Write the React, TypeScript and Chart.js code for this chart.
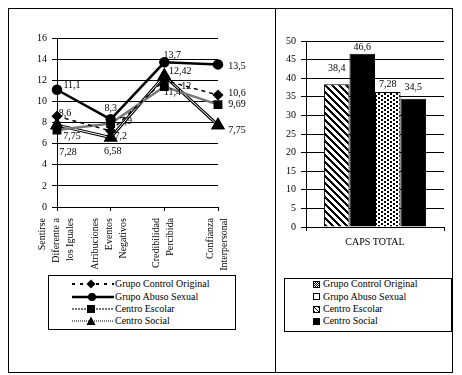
import React, { useEffect, useRef } from "react";
import { Chart, registerables } from "chart.js";

Chart.register(...registerables);

const FONT = "'Liberation Serif', 'Times New Roman', serif";

// ---- Line chart data ----
const lineCategories: string[][] = [
  ["Sentirse", "Diferente a", "los Iguales"],
  ["Atribuciones", "Eventos", "Negativos"],
  ["Credibilidad", "Percibida"],
  ["Confianza", "Interpersonal"],
];
const seriesNames = ["Grupo Control Original", "Grupo Abuso Sexual", "Centro Escolar", "Centro Social"];
const controlOriginal = [8.6, 7.2, 12, 10.6];
const abusoSexual = [11.1, 8.3, 13.7, 13.5];
const centroEscolar = [7.28, 7.9, 11.4, 9.69];
const centroSocial = [7.75, 6.58, 12.42, 7.75];
const lineYMin = 0;
const lineYMax = 16;
const lineYStep = 2;

// ---- Bar chart data ----
const barCategories = ["CAPS TOTAL"];
const capsTotal = [38.4, 46.6, 36.28, 34.5];
const capsLabels = ["38,4", "46,6", "7,28", "34,5"];
const barYMin = 0;
const barYMax = 50;
const barYStep = 5;

// ---- styles ----
const lineLabelOffsets: number[][][] = [
  [[8, -3], [10, 5], [22, 6], [19, -2]],
  [[15, -4], [0, -11], [8, -7], [19, 2]],
  [[11, 22], [15, -2], [8, 6], [19, 0]],
  [[15, 11], [2, 14], [16, -4], [19, 5]],
];
const barLabelOffsets = [16, 6, 8, 11];

const fmt = (v: number) => String(v).replace(".", ",");

function stripePattern(): CanvasPattern | string {
  const c = document.createElement("canvas");
  const n = 7;
  c.width = n;
  c.height = n;
  const g = c.getContext("2d");
  if (!g) return "#000";
  g.fillStyle = "#fff";
  g.fillRect(0, 0, n, n);
  g.fillStyle = "#000";
  for (let y = 0; y < n; y++) {
    for (let x = 0; x < n; x++) {
      if ((x - y + n) % n < 3) g.fillRect(x, y, 1, 1);
    }
  }
  return g.createPattern(c, "repeat") || "#000";
}

function dotPattern(): CanvasPattern | string {
  const c = document.createElement("canvas");
  c.width = 6;
  c.height = 4;
  const g = c.getContext("2d");
  if (!g) return "#888";
  g.fillStyle = "#fff";
  g.fillRect(0, 0, 6, 4);
  g.fillStyle = "#000";
  g.fillRect(0, 0, 2, 2);
  g.fillRect(3, 2, 2, 2);
  return g.createPattern(c, "repeat") || "#888";
}

export default function App() {
  const lineRef = useRef<HTMLCanvasElement>(null);
  const barRef = useRef<HTMLCanvasElement>(null);

  useEffect(() => {
    if (!lineRef.current || !barRef.current) return;
    const seriesValues = [controlOriginal, abusoSexual, centroEscolar, centroSocial];

    const socialPlugin = {
      id: "socialHollow",
      afterDatasetDraw(chart: any, args: any) {
        if (args.index !== 3) return;
        const ctx = chart.ctx;
        const pts = args.meta.data;
        ctx.save();
        ctx.strokeStyle = "#fff";
        ctx.lineWidth = 1;
        ctx.beginPath();
        pts.forEach((p: any, i: number) => (i === 0 ? ctx.moveTo(p.x, p.y) : ctx.lineTo(p.x, p.y)));
        ctx.stroke();
        ctx.restore();
        pts.forEach((p: any) => p.draw(ctx));
      },
    };

    const lineLabelsPlugin = {
      id: "lineLabels",
      afterDatasetsDraw(chart: any) {
        const ctx = chart.ctx;
        ctx.save();
        ctx.font = `10px ${FONT}`;
        ctx.fillStyle = "#000";
        ctx.textAlign = "center";
        ctx.textBaseline = "middle";
        seriesValues.forEach((vals, d) => {
          const meta = chart.getDatasetMeta(d);
          meta.data.forEach((pt: any, i: number) => {
            const [dx, dy] = lineLabelOffsets[d][i];
            ctx.fillText(fmt(vals[i]), pt.x + dx, pt.y + dy);
          });
        });
        ctx.restore();
      },
    };

    const xLabelsPlugin = {
      id: "xLabels",
      afterDraw(chart: any) {
        const ctx = chart.ctx;
        const scale = chart.scales.x;
        ctx.save();
        ctx.font = `10px ${FONT}`;
        ctx.fillStyle = "#000";
        lineCategories.forEach((lines, i) => {
          const x = scale.getPixelForTick(i);
          const n = lines.length;
          lines.forEach((t, j) => {
            ctx.save();
            ctx.translate(x + (j - (n - 1) / 2) * 14 - 1, scale.top + 11);
            ctx.rotate(-Math.PI / 2);
            ctx.textAlign = "right";
            ctx.textBaseline = "middle";
            ctx.fillText(t, 0, 0);
            ctx.restore();
          });
        });
        ctx.restore();
      },
    };

    const lineChart = new Chart(lineRef.current, {
      type: "line",
      data: {
        labels: lineCategories.map((l) => l.join(" ")),
        datasets: [
          {
            label: seriesNames[0],
            data: controlOriginal,
            borderColor: "#000",
            borderWidth: 1.5,
            borderDash: [4, 4],
            pointStyle: "rectRot",
            pointRadius: 4.5,
            pointBackgroundColor: "#000",
            pointBorderColor: "#000",
            clip: false,
            tension: 0,
          },
          {
            label: seriesNames[1],
            data: abusoSexual,
            borderColor: "#000",
            borderWidth: 2.5,
            pointStyle: "circle",
            pointRadius: 4,
            pointBackgroundColor: "#000",
            pointBorderColor: "#000",
            clip: false,
            tension: 0,
          },
          {
            label: seriesNames[2],
            data: centroEscolar,
            borderColor: "#7a7a7a",
            borderWidth: 2.5,
            pointStyle: "rect",
            pointRadius: 4.5,
            pointBackgroundColor: "#000",
            pointBorderColor: "#000",
            clip: false,
            tension: 0,
          },
          {
            label: seriesNames[3],
            data: centroSocial,
            borderColor: "#000",
            borderWidth: 3,
            pointStyle: "triangle",
            pointRadius: 5,
            pointBackgroundColor: "#000",
            pointBorderColor: "#000",
            clip: false,
            tension: 0,
          },
        ],
      } as any,
      options: {
        responsive: false,
        animation: false,
        events: [],
        layout: { padding: { top: 29, right: 56, left: 0, bottom: 0 } },
        plugins: { legend: { display: false }, tooltip: { enabled: false } },
        scales: {
          x: {
            offset: false,
            grid: { drawOnChartArea: false, drawTicks: true, tickLength: 4, color: "#000" },
            border: { color: "#000" },
            ticks: { display: false },
            afterFit: (s: any) => {
              s.height = 64;
            },
          },
          y: {
            min: lineYMin,
            max: lineYMax,
            ticks: { stepSize: lineYStep, color: "#000", font: { family: FONT, size: 10 }, padding: 5 },
            grid: { color: "#000", tickLength: 5 },
            border: { color: "#000" },
            afterFit: (s: any) => {
              s.width = 48;
            },
          },
        },
      } as any,
      plugins: [socialPlugin, lineLabelsPlugin, xLabelsPlugin],
    });

    const barFills = [stripePattern(), "#000", dotPattern(), "#000"];

    const barLabelsPlugin = {
      id: "barLabels",
      afterDatasetsDraw(chart: any) {
        const ctx = chart.ctx;
        ctx.save();
        ctx.font = `10px ${FONT}`;
        ctx.fillStyle = "#000";
        ctx.textAlign = "center";
        ctx.textBaseline = "middle";
        capsLabels.forEach((t, i) => {
          const el = chart.getDatasetMeta(i).data[0];
          ctx.fillText(t, el.x, el.y - barLabelOffsets[i]);
        });
        ctx.restore();
      },
    };

    const barChart = new Chart(barRef.current, {
      type: "bar",
      data: {
        labels: barCategories,
        datasets: seriesNames.map((name, i) => ({
          label: name,
          data: [capsTotal[i]],
          backgroundColor: barFills[i],
          borderColor: "#000",
          borderWidth: 1,
          categoryPercentage: 0.74,
          barPercentage: 1,
        })),
      } as any,
      options: {
        responsive: false,
        animation: false,
        events: [],
        layout: { padding: { top: 32, right: 8, left: 0, bottom: 0 } },
        plugins: { legend: { display: false }, tooltip: { enabled: false } },
        scales: {
          x: {
            grid: { drawOnChartArea: false, tickLength: 4, color: "#000" },
            border: { color: "#000" },
            ticks: { color: "#000", font: { family: FONT, size: 10 }, padding: 5 },
            afterFit: (s: any) => {
              s.height = 42;
            },
          },
          y: {
            min: barYMin,
            max: barYMax,
            ticks: { stepSize: barYStep, color: "#000", font: { family: FONT, size: 10 }, padding: 5 },
            grid: { color: "#000", tickLength: 5 },
            border: { color: "#000" },
            afterFit: (s: any) => {
              s.width = 30;
            },
          },
        },
      } as any,
      plugins: [barLabelsPlugin],
    });

    return () => {
      lineChart.destroy();
      barChart.destroy();
    };
  }, []);

  const rowStyle = (center: number, left: number): React.CSSProperties => ({
    position: "absolute",
    top: center - 6,
    left,
    height: 12,
    lineHeight: "12px",
    whiteSpace: "nowrap",
    display: "flex",
    alignItems: "center",
  });

  const lineRows = [275, 287.5, 299.5, 311.5];
  const barRows = [275, 287.5, 300, 312];

  const lineSwatches = [
    <svg width={42} height={10} key="a">
      <line x1={0} y1={5} x2={42} y2={5} stroke="#000" strokeWidth={2} strokeDasharray="3 5" />
      <polygon points="19,0.5 23.5,5 19,9.5 14.5,5" fill="#000" />
    </svg>,
    <svg width={42} height={10} key="b">
      <line x1={0} y1={5} x2={42} y2={5} stroke="#000" strokeWidth={2.5} />
      <circle cx={20} cy={5} r={4} fill="#000" />
    </svg>,
    <svg width={42} height={10} key="c">
      <line x1={0} y1={5} x2={42} y2={5} stroke="#777" strokeWidth={2} strokeDasharray="2 1" />
      <rect x={15} y={1} width={8} height={8} fill="#000" />
    </svg>,
    <svg width={42} height={10} key="d">
      <line x1={0} y1={5} x2={42} y2={5} stroke="#000" strokeWidth={1} strokeDasharray="1 1" />
      <polygon points="19,0.5 23.5,9 14.5,9" fill="#000" />
    </svg>,
  ];

  const barSwatchStyles: React.CSSProperties[] = [
    { background: "repeating-conic-gradient(#000 0% 25%, #fff 0% 50%) 0 0 / 2px 2px" },
    { background: "#fff" },
    { background: "repeating-linear-gradient(45deg, #000 0 1px, #fff 1px 3px)" },
    { background: "#000" },
  ];

  return (
    <div
      style={{
        position: "relative",
        width: 445,
        height: 365,
        border: "1px solid #000",
        boxSizing: "border-box",
        fontFamily: FONT,
        fontSize: 10,
        color: "#000",
        background: "#fff",
      }}
    >
      <div style={{ position: "absolute", left: 266, top: 0, width: 1, height: "100%", background: "#000" }} />
      <canvas
        ref={lineRef}
        width={265}
        height={262}
        style={{ position: "absolute", left: 0, top: 0, width: 265, height: 262, display: "block" }}
      />
      <canvas
        ref={barRef}
        width={176}
        height={260}
        style={{ position: "absolute", left: 267, top: 0, width: 176, height: 260, display: "block" }}
      />
      <div
        style={{
          position: "absolute",
          left: 39,
          top: 266,
          width: 188,
          height: 55,
          border: "1px solid #000",
          boxSizing: "border-box",
        }}
      />
      {seriesNames.map((name, i) => (
        <div key={"l" + i} style={rowStyle(lineRows[i], 63)}>
          {lineSwatches[i]}
          <span style={{ marginLeft: 1 }}>{name}</span>
        </div>
      ))}
      <div
        style={{
          position: "absolute",
          left: 275,
          top: 269,
          width: 168,
          height: 54,
          border: "1px solid #000",
          boxSizing: "border-box",
        }}
      />
      {seriesNames.map((name, i) => (
        <div key={"b" + i} style={rowStyle(barRows[i], 304)}>
          <span
            style={{
              display: "inline-block",
              width: 7,
              height: 7,
              border: "1px solid #000",
              boxSizing: "border-box",
              ...barSwatchStyles[i],
            }}
          />
          <span style={{ marginLeft: 3 }}>{name}</span>
        </div>
      ))}
    </div>
  );
}
